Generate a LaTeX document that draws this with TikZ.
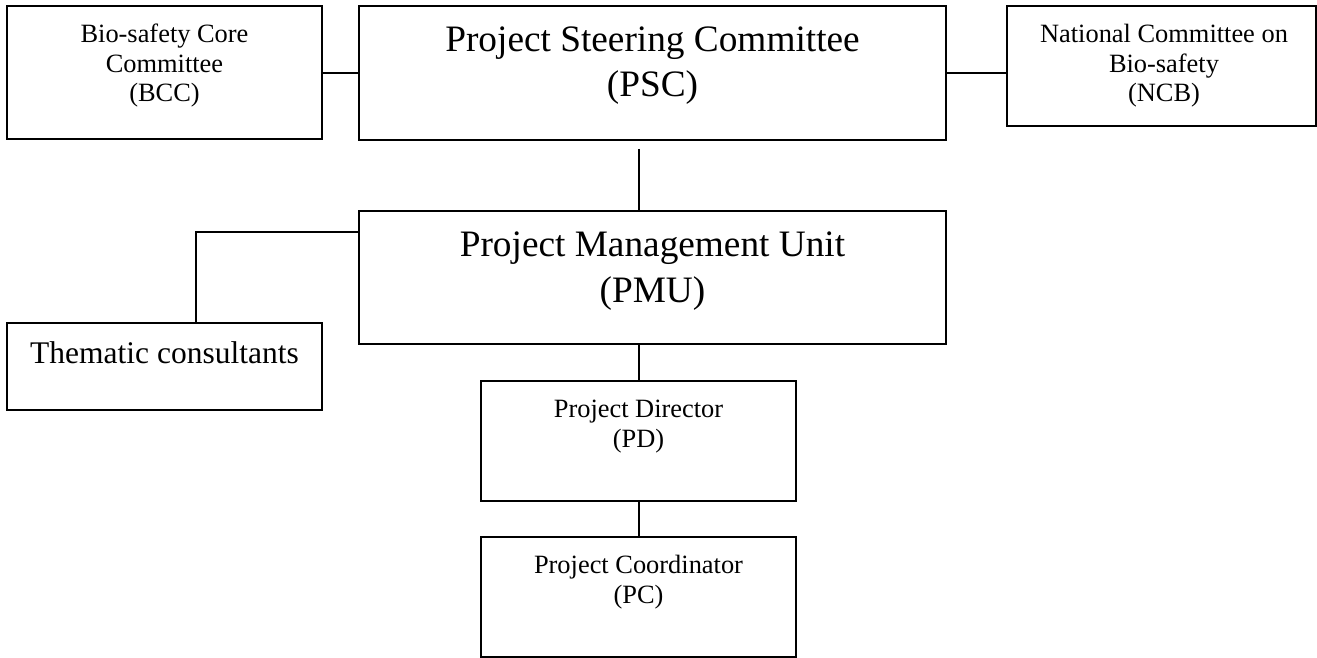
\documentclass[tikz,border=0pt]{standalone}
\usepackage{fontspec}
\setmainfont{Liberation Serif}
\usetikzlibrary{fit}
\tikzset{
  box/.style={draw=black, line width=1pt, inner sep=0pt, rectangle, fill=white},
  conn/.style={draw=black, line width=1pt},
  smalltxt/.style={align=center, inner sep=0pt, anchor=base, font=\fontsize{13.2}{14.8}\selectfont},
  midtxt/.style={align=center, inner sep=0pt, anchor=base, font=\fontsize{15.75}{19}\selectfont},
  bigtxt/.style={align=center, inner sep=0pt, anchor=base, font=\fontsize{18.65}{22.75}\selectfont}
}
\begin{document}
\begin{tikzpicture}[x=0.5pt, y=-0.5pt]
\useasboundingbox (0,0) rectangle (1317,658);
% boxes
\node[box, fit={(7,6) (322,139)}] (bcc) {};
\node[box, fit={(359,6) (946,140)}] (psc) {};
\node[box, fit={(1007,6) (1316,126)}] (ncb) {};
\node[box, fit={(359,211) (946,344)}] (pmu) {};
\node[box, fit={(7,323) (322,410)}] (them) {};
\node[box, fit={(481,381) (796,501)}] (pd) {};
\node[box, fit={(481,537) (796,657)}] (pc) {};
% texts (anchored at the baseline of the last line)
\node[smalltxt] (bcct) at (164.5,102) {Bio-safety Core\\Committee\\(BCC)};
\node[bigtxt] (psct) at (652.5,97) {Project Steering Committee\\(PSC)};
\node[smalltxt] (ncbt) at (1164,102) {National Committee on\\Bio-safety\\(NCB)};
\node[bigtxt] (pmut) at (652.5,302) {Project Management Unit\\(PMU)};
\node[midtxt] (themt) at (164.5,363) {Thematic consultants};
\node[smalltxt] (pdt) at (638.5,447) {Project Director\\(PD)};
\node[smalltxt] (pct) at (638.5,603) {Project Coordinator\\(PC)};
% connector helpers
\coordinate (ytop) at (0,73);
\coordinate (c1) at (639,149);
\coordinate (tk) at (196,232);
% connectors
\draw[conn] (bcc.east |- ytop) -- (psc.west |- ytop);
\draw[conn] (psc.east |- ytop) -- (ncb.west |- ytop);
\draw[conn] (c1) -- (c1 |- pmu.north);
\draw[conn] (pmu.west |- tk) -- (tk) -- (tk |- them.north);
\draw[conn] (pd.north |- pmu.south) -- (pd.north);
\draw[conn] (pd.south) -- (pc.north);
\end{tikzpicture}
\end{document}
